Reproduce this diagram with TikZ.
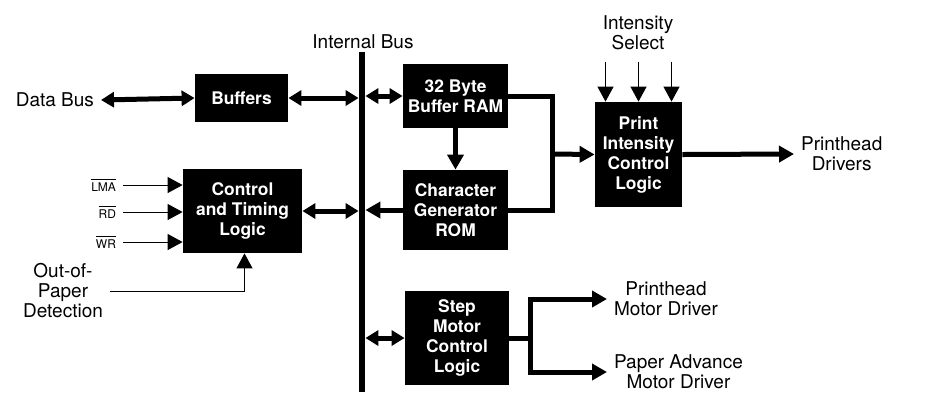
\documentclass[tikz,border=0pt]{standalone}
\usepackage{fontspec}
\setmainfont{TeX Gyre Heros}
\usetikzlibrary{arrows.meta}

\begin{document}
\begin{tikzpicture}[x=0.5pt,y=-0.5pt]
\tikzset{blk/.style = {fill=black, text=white, font=\fontsize{8.7}{10}\selectfont\bfseries, align=center, inner sep=0pt}}
\tikzset{lbl/.style = {align=center, font=\fontsize{9.5}{10}\selectfont}}
\tikzset{pin/.style = {anchor=east, font=\fontsize{6}{7}\selectfont}}
\tikzset{dbl/.style = {line width=2.5pt, {Triangle[width=7.5pt,length=6.5pt]}-{Triangle[width=7.5pt,length=6.5pt]}}}
\tikzset{flow/.style = {line width=2.5pt, -{Triangle[width=8pt,length=7.5pt]}}}
\tikzset{sig/.style = {line width=0.5pt, -{Triangle[width=8pt,length=7.5pt]}}}

\useasboundingbox (0,0) rectangle (929,393);

\node[fill, inner sep=0pt, minimum width=3pt, minimum height=170pt] (ibus) at (362,222) {};
\node[lbl] (ibl) at (363,42) {Internal Bus};

\node[blk, minimum width=46.5pt, minimum height=24pt] (buf) at (241.5,98) {Buffers};
\node[blk, minimum width=59.5pt, minimum height=42pt] (ctl) at (242.5,211) {Control\\and Timing\\Logic};
\node[blk, minimum width=52.5pt, minimum height=32pt] (ram) at (455.5,96) {32 Byte\\Buffer RAM};
\node[blk, minimum width=52.5pt, minimum height=40pt] (cgr) at (455.5,210) {Character\\Generator\\ROM};
\node[blk, minimum width=52pt, minimum height=47pt] (smc) at (457,338) {Step\\Motor\\Control\\Logic};
\node[blk, minimum width=43.5pt, minimum height=52.5pt] (pic) at (638.5,154.5) {Print\\Intensity\\Control\\Logic};

\node[lbl, anchor=east] (db) at (101,100) {Data Bus};
\node[lbl] (isel) at (638,33) {Intensity\\Select};
\node[lbl, anchor=west] (phd) at (794,154) {Printhead\\Drivers};
\node[lbl, anchor=west] (phm) at (607,299) {Printhead\\Motor Driver};
\node[lbl, anchor=west] (pam) at (607,372) {Paper Advance\\Motor Driver};
\node[lbl] (oop) at (63,291) {Out-of-\\Paper\\Detection};

\node[pin] (lma) at (123,185) {$\overline{\mbox{LMA}}$};
\node[pin] (rd) at (123,212) {$\overline{\mbox{RD}}$};
\node[pin] (wr) at (123,242) {$\overline{\mbox{WR}}$};

\coordinate (join) at (552,154);
\coordinate (split) at (530,338);

% bus connections
\draw[dbl] (db.east) -- (buf.west);
\draw[dbl] (buf.east) -- (buf.east -| ibus.west);
\draw[dbl] (ctl.east) -- (ctl.east -| ibus.west);
\draw[dbl] (ram.west -| ibus.east) -- (ram.west);
\draw[flow] (cgr.west) -- (cgr.west -| ibus.east);
\draw[dbl] (smc.west -| ibus.east) -- (smc.west);

% data path
\draw[flow] (ram.south) -- (cgr.north);
\draw[line width=2.5pt] (ram.east) -| (join) |- (cgr.east);
\draw[flow] (join) -- (pic.west);
\draw[flow] (pic.east) -- (phd.west);
\draw[line width=2.5pt] (smc.east) -- (split);
\draw[flow] (split) |- (phm.west);
\draw[flow] (split) |- (pam.west);

% control inputs
\draw[sig] (lma.east) -- (lma.east -| ctl.west);
\draw[sig] (rd.east) -- (rd.east -| ctl.west);
\draw[sig] (wr.east) -- (wr.east -| ctl.west);
\draw[sig] (oop.east) -| ([xshift=1pt]ctl.south);
\foreach \dx in {-33,0,33}
  \draw[sig] ([xshift=\dx*0.5pt, yshift=20pt]pic.north) -- ([xshift=\dx*0.5pt]pic.north);
\end{tikzpicture}
\end{document}
